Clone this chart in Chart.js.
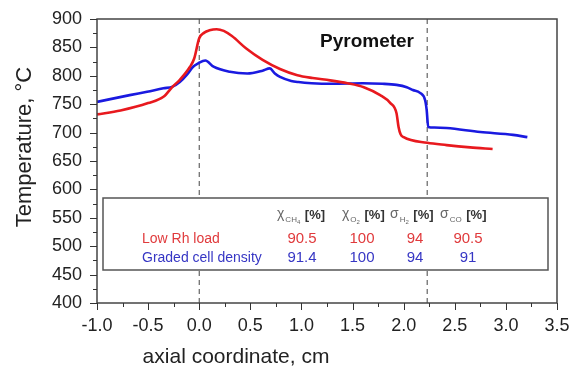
<!DOCTYPE html>
<html>
<head>
<meta charset="utf-8">
<script src="https://cdn.jsdelivr.net/npm/chart.js@4.4.0/dist/chart.umd.min.js"></script>
<style>
  html, body { margin: 0; padding: 0; background: #fff; }
  #wrap { width: 573px; height: 366px; }
</style>
</head>
<body>
<div id="wrap"><canvas id="chart" width="573" height="366"></canvas></div>
<script>
// temperature profiles, axial coordinate (cm) vs temperature (°C)
const lowRhX = [-1.0, -0.77, -0.5, -0.35, -0.26, -0.19, -0.09, -0.05, 0.0, 0.05, 0.1, 0.17, 0.24, 0.32, 0.46, 0.62, 0.79, 0.96, 1.11, 1.28, 1.45, 1.61, 1.77, 1.87, 1.93, 1.95, 1.97, 2.0, 2.23, 2.42, 2.65, 2.87];
const lowRhY = [732, 739, 752, 763, 781, 793, 816, 830, 866, 876, 880, 882, 879, 870, 848, 828, 812, 801, 796, 792, 787, 780, 766, 752, 734, 710, 697, 692, 682, 678, 674, 671];

const gradedX = [-1.0, -0.68, -0.51, -0.35, -0.26, -0.19, -0.12, -0.06, -0.01, 0.06, 0.14, 0.30, 0.47, 0.62, 0.69, 0.74, 0.79, 0.9, 0.97, 1.1, 1.3, 1.6, 1.79, 1.93, 2.03, 2.09, 2.16, 2.21, 2.225, 2.24, 2.3, 2.42, 2.75, 3.07, 3.21];
const gradedY = [754, 766, 772, 778, 781, 789, 802, 816, 822, 827, 816, 807, 804, 809, 813, 804, 798, 791, 789, 787, 786, 787, 786, 784, 780, 775, 770, 757, 740, 710, 709, 708, 701, 696, 692];

const markerX = [0.0, 2.23];   // dashed vertical lines
const seriesNames = ['Low Rh load', 'Graded cell density'];
const seriesColors = ['#e8191e', '#1a1ae0'];
const tableColors = ['#e03a3c', '#3636c4'];

// table: χCH4, χO2, σH2, σCO
const headSymbols = ['χ', 'χ', 'σ', 'σ'];
const headSubs = [['CH', '4'], ['O', '2'], ['H', '2'], ['CO', '']];
const lowRhTable = ['90.5', '100', '94', '90.5'];
const gradedTable = ['91.4', '100', '94', '91'];

const FONT = "'Liberation Sans', Arial, sans-serif";

function pts(xs, ys) {
    return xs.map((x, i) => ({x: x, y: ys[i]}));
}

const datasets = [
    {
        label: seriesNames[0],
        data: pts(lowRhX, lowRhY),
        borderColor: seriesColors[0],
        borderWidth: 2.6,
        pointRadius: 0,
        cubicInterpolationMode: 'monotone'
    },
    {
        label: seriesNames[1],
        data: pts(gradedX, gradedY),
        borderColor: seriesColors[1],
        borderWidth: 2.6,
        pointRadius: 0,
        cubicInterpolationMode: 'monotone'
    }
];
markerX.forEach(mx => {
    datasets.push({
        label: 'marker',
        data: [{x: mx, y: 400}, {x: mx, y: 900}],
        borderColor: '#444',
        borderWidth: 1,
        borderDash: [5, 4],
        pointRadius: 0
    });
});

const decor = {
    id: 'decor',
    afterDatasetsDraw(chart) {
        const ctx = chart.ctx;
        const a = chart.chartArea;
        const xs = chart.scales.x, ys = chart.scales.y;
        ctx.save();

        // frame
        ctx.strokeStyle = '#444';
        ctx.lineWidth = 1.5;
        ctx.strokeRect(a.left, a.top, a.right - a.left, a.bottom - a.top);

        // ticks
        ctx.lineWidth = 1;
        ctx.strokeStyle = '#333';
        ctx.beginPath();
        for (let v = 400; v <= 900; v += 25) {
            const p = Math.round(ys.getPixelForValue(v)) + 0.5;
            const len = (v % 50 === 0) ? 7 : 4;
            ctx.moveTo(a.left - len, p);
            ctx.lineTo(a.left, p);
        }
        for (let v = -1.0; v <= 3.5001; v += 0.25) {
            const p = Math.round(xs.getPixelForValue(v)) + 0.5;
            const len = (Math.abs(v * 2 - Math.round(v * 2)) < 0.01) ? 7 : 4;
            ctx.moveTo(p, a.bottom);
            ctx.lineTo(p, a.bottom + len);
        }
        ctx.stroke();

        // legend table
        const bx = 103, by = 198, bw = 445, bh = 72;
        ctx.fillStyle = '#fff';
        ctx.fillRect(bx, by, bw, bh);
        ctx.strokeStyle = '#555';
        ctx.lineWidth = 1.5;
        ctx.strokeRect(bx, by, bw, bh);

        const headX = [277, 342, 390, 440];
        ctx.textBaseline = 'alphabetic';
        ctx.textAlign = 'left';
        headSymbols.forEach((s, i) => {
            let x = headX[i];
            ctx.fillStyle = '#666';
            ctx.font = `14px ${FONT}`;
            ctx.fillText(s, x, 218);
            x += ctx.measureText(s).width + 1;
            ctx.font = `8px ${FONT}`;
            ctx.fillText(headSubs[i][0], x, 222);
            x += ctx.measureText(headSubs[i][0]).width;
            if (headSubs[i][1]) {
                ctx.font = `6px ${FONT}`;
                ctx.fillText(headSubs[i][1], x, 224);
                x += ctx.measureText(headSubs[i][1]).width;
            }
            ctx.fillStyle = '#333';
            ctx.font = `bold 13px ${FONT}`;
            ctx.fillText(' [%]', x + 1, 219);
        });

        const colX = [302, 362, 415, 468];
        const rows = [lowRhTable, gradedTable];
        const rowY = [239, 258];
        ctx.textBaseline = 'middle';
        rows.forEach((row, r) => {
            ctx.fillStyle = tableColors[r];
            ctx.font = `14px ${FONT}`;
            ctx.textAlign = 'left';
            ctx.fillText(seriesNames[r], 142, rowY[r]);
            ctx.font = `15px ${FONT}`;
            ctx.textAlign = 'center';
            row.forEach((v, i) => ctx.fillText(v, colX[i], rowY[r]));
        });

        // annotation
        ctx.fillStyle = '#111';
        ctx.font = `bold 19px ${FONT}`;
        ctx.textAlign = 'center';
        ctx.textBaseline = 'middle';
        ctx.fillText('Pyrometer', 367, 42);

        // axis titles
        ctx.fillStyle = '#222';
        ctx.font = `21px ${FONT}`;
        ctx.textBaseline = 'alphabetic';
        ctx.fillText('axial coordinate, cm', 236, 363);
        ctx.translate(31, 147);
        ctx.rotate(-Math.PI / 2);
        ctx.font = `22px ${FONT}`;
        ctx.fillText('Temperature, °C', 0, 0);
        ctx.restore();
    }
};

const ctx = document.getElementById('chart').getContext('2d');
new Chart(ctx, {
    type: 'line',
    data: {datasets: datasets},
    options: {
        responsive: false,
        animation: false,
        devicePixelRatio: 1,
        layout: {padding: {top: 19, right: 16, left: 0, bottom: 0}},
        plugins: {legend: {display: false}, tooltip: {enabled: false}},
        scales: {
            x: {
                type: 'linear',
                min: -1.0,
                max: 3.5,
                afterFit: s => { s.height = 63; s.paddingLeft = 0; s.paddingRight = 0; },
                grid: {display: false, drawTicks: false},
                border: {display: false},
                ticks: {
                    stepSize: 0.5,
                    callback: v => v.toFixed(1),
                    font: {family: FONT, size: 18},
                    color: '#222',
                    padding: 12,
                    maxRotation: 0,
                    autoSkip: false
                }
            },
            y: {
                min: 400,
                max: 900,
                afterFit: s => { s.width = 97; s.paddingTop = 0; s.paddingBottom = 0; },
                grid: {display: false, drawTicks: false},
                border: {display: false},
                ticks: {
                    stepSize: 50,
                    font: {family: FONT, size: 18},
                    color: '#222',
                    padding: 15
                }
            }
        }
    },
    plugins: [decor]
});
</script>
</body>
</html>
